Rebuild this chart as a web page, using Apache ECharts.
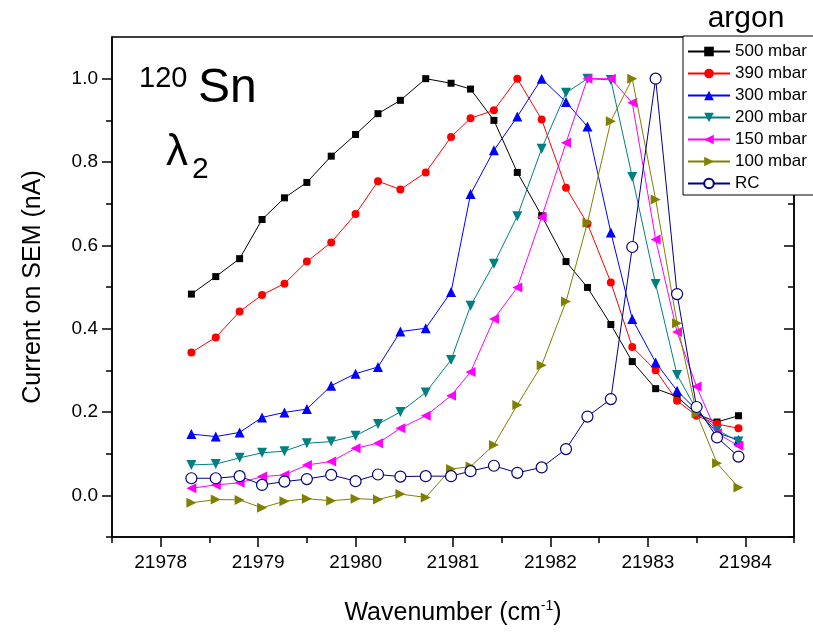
<!DOCTYPE html>
<html><head><meta charset="utf-8">
<script src="https://cdn.jsdelivr.net/npm/echarts@6/dist/echarts.min.js"></script>
<style>html,body{margin:0;padding:0;background:#fff}#c{width:813px;height:632px}</style>
</head><body><div id="c"></div>
<script>
// Data
const wavenumber = [21978.315, 21978.565, 21978.81, 21979.04, 21979.27, 21979.50, 21979.75, 21980.00, 21980.23, 21980.46, 21980.72, 21980.98, 21981.18, 21981.42, 21981.66, 21981.91, 21982.16, 21982.38, 21982.62, 21982.84, 21983.08, 21983.30, 21983.50, 21983.71, 21983.93];
const mbar500 = [0.483, 0.525, 0.568, 0.662, 0.714, 0.751, 0.814, 0.866, 0.916, 0.948, 1.0, 0.989, 0.975, 0.900, 0.775, 0.671, 0.561, 0.499, 0.410, 0.321, 0.256, 0.237, 0.195, 0.176, 0.191];
const mbar390 = [0.343, 0.379, 0.441, 0.481, 0.508, 0.561, 0.607, 0.675, 0.754, 0.734, 0.775, 0.860, 0.905, 0.924, 1.0, 0.902, 0.738, 0.652, 0.511, 0.356, 0.300, 0.227, 0.191, 0.171, 0.161];
const mbar300 = [0.147, 0.141, 0.151, 0.187, 0.199, 0.207, 0.263, 0.292, 0.308, 0.393, 0.401, 0.488, 0.723, 0.828, 0.909, 1.0, 0.944, 0.885, 0.631, 0.423, 0.319, 0.251, 0.205, 0.150, 0.133];
const mbar200 = [0.073, 0.075, 0.090, 0.102, 0.106, 0.125, 0.129, 0.143, 0.171, 0.200, 0.247, 0.325, 0.455, 0.556, 0.670, 0.832, 0.966, 1.0, 0.997, 0.764, 0.507, 0.289, 0.205, 0.157, 0.129];
const mbar150 = [0.017, 0.025, 0.030, 0.045, 0.049, 0.073, 0.081, 0.113, 0.125, 0.161, 0.191, 0.239, 0.296, 0.423, 0.499, 0.668, 0.846, 1.0, 1.0, 0.942, 0.614, 0.392, 0.261, 0.149, 0.119];
const mbar100 = [-0.018, -0.010, -0.011, -0.030, -0.014, -0.008, -0.013, -0.008, -0.010, 0.003, -0.005, 0.063, 0.069, 0.121, 0.217, 0.312, 0.465, 0.654, 0.898, 1.0, 0.710, 0.413, 0.197, 0.077, 0.019];
const rc = [0.041, 0.041, 0.046, 0.025, 0.033, 0.039, 0.049, 0.034, 0.050, 0.045, 0.046, 0.046, 0.058, 0.071, 0.054, 0.067, 0.111, 0.189, 0.231, 0.596, 1.0, 0.483, 0.212, 0.139, 0.093];
const seriesNames = ['500 mbar', '390 mbar', '300 mbar', '200 mbar', '150 mbar', '100 mbar', 'RC'];
const xMajorTicks = [21978, 21979, 21980, 21981, 21982, 21983, 21984];
const xMinorTicks = [21977.5, 21978.5, 21979.5, 21980.5, 21981.5, 21982.5, 21983.5, 21984.5];
const yMajorTicks = [0.0, 0.2, 0.4, 0.6, 0.8, 1.0];
const yMinorTicks = [-0.1, 0.1, 0.3, 0.5, 0.7, 0.9];

const FONT = "'Liberation Sans', Arial, sans-serif";
const chart = echarts.init(document.getElementById('c'), null, {renderer: 'canvas'});

const values = [mbar500, mbar390, mbar300, mbar200, mbar150, mbar100, rc];
const styles = [
  {color: '#000000', symbol: 'rect', size: 7, rotate: 0},
  {color: '#FF0000', symbol: 'circle', size: 8, rotate: 0},
  {color: '#0000FF', symbol: 'triangle', size: 10, rotate: 0},
  {color: '#008080', symbol: 'triangle', size: 10, rotate: 180},
  {color: '#FF00FF', symbol: 'triangle', size: 10, rotate: 90},
  {color: '#808000', symbol: 'triangle', size: 10, rotate: -90},
  {color: '#000080', symbol: 'circle', size: 11, rotate: 0, hollow: true}
];

const series = values.map((v, k) => {
  const st = styles[k];
  return {
    name: seriesNames[k],
    type: 'line',
    xAxisIndex: 0,
    yAxisIndex: 0,
    data: wavenumber.map((x, i) => [x, v[i]]),
    symbol: st.symbol,
    symbolSize: st.size,
    symbolRotate: st.rotate,
    showAllSymbol: true,
    lineStyle: {color: st.color, width: 1},
    itemStyle: st.hollow ? {color: '#ffffff', borderColor: st.color, borderWidth: 1.2} : {color: st.color},
    emphasis: {disabled: true},
    animation: false,
    z: 2 + k
  };
});

const axisLineStyle = {color: '#000', width: 1.5};
function baseX(extra) {
  return Object.assign({
    type: 'value', gridIndex: 0, min: 21977.5, max: 21984.5, interval: 0.5, position: 'bottom',
    splitLine: {show: false}
  }, extra);
}
function baseY(extra) {
  return Object.assign({
    type: 'value', gridIndex: 0, min: -0.1, max: 1.1, interval: 0.1,
    splitLine: {show: false}
  }, extra);
}

const option = {
  backgroundColor: '#ffffff',
  animation: false,
  grid: {left: 112, right: 19, top: 37, bottom: 95, show: true, borderColor: '#000', borderWidth: 1.5, backgroundColor: 'transparent'},
  legend: {
    orient: 'vertical', left: 683, top: 36,
    padding: [7, 40, 3, 4],
    itemWidth: 42, itemHeight: 12, itemGap: 5,
    borderColor: '#000', borderWidth: 1, backgroundColor: '#fff',
    textStyle: {fontFamily: FONT, fontSize: 17, color: '#000'},
    data: seriesNames
  },
  xAxis: [
    baseX({
      axisLine: {show: true, onZero: false, lineStyle: axisLineStyle},
      axisTick: {show: true, inside: false, length: 10, lineStyle: axisLineStyle, customValues: xMajorTicks},
      axisLabel: {show: true, customValues: xMajorTicks, fontFamily: FONT, fontSize: 19, color: '#000', margin: 16,
        formatter: v => String(Math.round(v))},
      name: '{a|Wavenumber (cm}{s|-1}{a|)}',
      nameLocation: 'middle', nameGap: 62,
      nameTextStyle: {rich: {
        a: {fontFamily: FONT, fontSize: 25, color: '#000', lineHeight: 28},
        s: {fontFamily: FONT, fontSize: 14, color: '#000', lineHeight: 14, verticalAlign: 'top'}
      }}
    }),
    baseX({
      axisLine: {show: false, onZero: false},
      axisTick: {show: true, inside: false, length: 6, lineStyle: axisLineStyle, customValues: xMinorTicks},
      axisLabel: {show: false}
    })
  ],
  yAxis: [
    baseY({
      position: 'left',
      axisLine: {show: true, onZero: false, lineStyle: axisLineStyle},
      axisTick: {show: true, inside: false, length: 10, lineStyle: axisLineStyle, customValues: yMajorTicks},
      axisLabel: {show: true, customValues: yMajorTicks, fontFamily: FONT, fontSize: 19, color: '#000', margin: 14,
        formatter: v => v.toFixed(1)},
      name: 'Current on SEM (nA)',
      nameLocation: 'middle', nameGap: 66,
      nameTextStyle: {fontFamily: FONT, fontSize: 25, color: '#000'}
    }),
    baseY({
      position: 'left',
      axisLine: {show: false, onZero: false},
      axisTick: {show: true, inside: false, length: 6, lineStyle: axisLineStyle, customValues: yMinorTicks},
      axisLabel: {show: false}
    }),
    baseY({
      position: 'right',
      axisLine: {show: true, onZero: false, lineStyle: axisLineStyle},
      axisTick: {show: true, inside: true, length: 10, lineStyle: axisLineStyle, customValues: yMajorTicks},
      axisLabel: {show: false}
    }),
    baseY({
      position: 'right',
      axisLine: {show: false, onZero: false},
      axisTick: {show: true, inside: true, length: 6, lineStyle: axisLineStyle, customValues: yMinorTicks},
      axisLabel: {show: false}
    })
  ],
  graphic: [
    {type: 'text', x: 746, y: 19, z: 100, style: {text: 'argon', font: '30px ' + FONT, fill: '#000', textAlign: 'center', textVerticalAlign: 'middle', align: 'center', verticalAlign: 'middle'}},
    {type: 'text', x: 139, y: 79, z: 100, style: {text: '120', font: '29px ' + FONT, fill: '#000', textAlign: 'left', textVerticalAlign: 'middle', align: 'left', verticalAlign: 'middle'}},
    {type: 'text', x: 198, y: 89, z: 100, style: {text: 'Sn', font: '48px ' + FONT, fill: '#000', textAlign: 'left', textVerticalAlign: 'middle', align: 'left', verticalAlign: 'middle'}},
    {type: 'text', x: 166, y: 153, z: 100, style: {text: 'λ', font: '44px ' + FONT, fill: '#000', textAlign: 'left', textVerticalAlign: 'middle', align: 'left', verticalAlign: 'middle'}},
    {type: 'text', x: 192, y: 170, z: 100, style: {text: '2', font: '30px ' + FONT, fill: '#000', textAlign: 'left', textVerticalAlign: 'middle', align: 'left', verticalAlign: 'middle'}}
  ],
  series: series
};
chart.setOption(option);
</script>
</body></html>
